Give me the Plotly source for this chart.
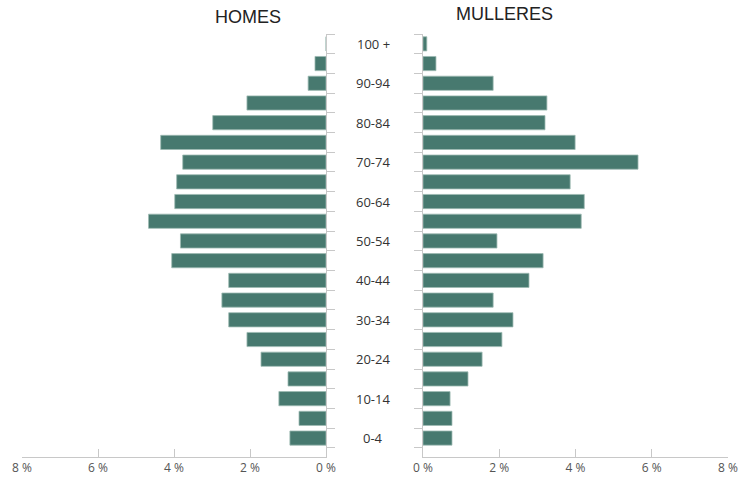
import plotly.graph_objects as go

age_groups = ["0-4", "5-9", "10-14", "15-19", "20-24", "25-29", "30-34", "35-39",
              "40-44", "45-49", "50-54", "55-59", "60-64", "65-69", "70-74",
              "75-79", "80-84", "85-89", "90-94", "95-99", "100 +"]
homes = [0.95, 0.71, 1.24, 1.00, 1.71, 2.08, 2.56, 2.74, 2.56, 4.06, 3.83, 4.67,
         3.98, 3.93, 3.77, 4.35, 2.98, 2.08, 0.47, 0.29, 0.0]
mulleres = [0.76, 0.76, 0.71, 1.18, 1.55, 2.07, 2.36, 1.84, 2.78, 3.15, 1.94, 4.15,
            4.23, 3.86, 5.64, 3.99, 3.20, 3.25, 1.84, 0.34, 0.10]
x_ticks = [0, 2, 4, 6, 8]
x_ticktext = ["0 %", "2 %", "4 %", "6 %", "8 %"]
shown_labels = ["0-4", "10-14", "20-24", "30-34", "40-44", "50-54", "60-64",
                "70-74", "80-84", "90-94", "100 +"]

W, H = 741, 481
bar_color = "#47796f"
axis_color = "#c8c8c8"
ypos = list(range(len(age_groups)))

fig = go.Figure()
fig.add_trace(go.Bar(x=homes, y=ypos, orientation="h", xaxis="x", yaxis="y",
                     marker=dict(color=bar_color, line=dict(color="#9dbab3", width=0.8)),
                     showlegend=False, hoverinfo="x"))
fig.add_trace(go.Bar(x=mulleres, y=ypos, orientation="h", xaxis="x2", yaxis="y2",
                     marker=dict(color=bar_color, line=dict(color="#9dbab3", width=0.8)),
                     showlegend=False, hoverinfo="x"))

ydom = [(H - 457) / H, (H - 34) / H]
yrange = [-0.96, 20.5]
boundaries = [i - 0.5 for i in range(len(age_groups) + 1)]
tickfont = dict(family="Open Sans, DejaVu Sans, sans-serif", size=12, color="#555555")

common_x = dict(tickvals=x_ticks, ticktext=x_ticktext, ticks="inside", ticklen=8,
                tickcolor=axis_color, showline=True, linecolor=axis_color, linewidth=1,
                showgrid=False, zeroline=False, tickfont=tickfont, fixedrange=True,
                automargin=False)
common_y = dict(range=yrange, domain=ydom, tickvals=boundaries, ticks="outside",
                ticklen=8, tickcolor=axis_color, showticklabels=False, showline=True,
                linecolor=axis_color, linewidth=1, showgrid=False, zeroline=False,
                automargin=False)

fig.update_layout(
    width=W, height=H,
    margin=dict(l=0, r=0, t=0, b=0, pad=0),
    paper_bgcolor="white", plot_bgcolor="white",
    bargap=0.28,
    xaxis=dict(domain=[22 / W, 326 / W], range=[8, 0], anchor="y", **common_x),
    xaxis2=dict(domain=[423 / W, 728 / W], range=[0, 8], anchor="y2", **common_x),
    yaxis=dict(anchor="x", side="right", **common_y),
    yaxis2=dict(anchor="x2", side="left", **common_y),
)

annotations = []
for lab in shown_labels:
    i = age_groups.index(lab)
    annotations.append(dict(x=373 / W, xref="paper", y=i, yref="y", text=lab,
                            showarrow=False, xanchor="center", yanchor="middle",
                            font=dict(family="Open Sans, DejaVu Sans, sans-serif",
                                      size=13, color="#333333")))
annotations.append(dict(x=248 / W, xref="paper", y=(H - 17) / H, yref="paper",
                        text="HOMES", showarrow=False, xanchor="center", yanchor="middle",
                        font=dict(family="Liberation Sans, Arial, sans-serif",
                                  size=18, color="#222222")))
annotations.append(dict(x=504 / W, xref="paper", y=(H - 14) / H, yref="paper",
                        text="MULLERES", showarrow=False, xanchor="center", yanchor="middle",
                        font=dict(family="Liberation Sans, Arial, sans-serif",
                                  size=18, color="#222222")))
fig.update_layout(annotations=annotations)

fig.write_html("out.html", config={"displayModeBar": False},
               post_script="document.body.style.margin='0';document.body.style.overflow='hidden';")
